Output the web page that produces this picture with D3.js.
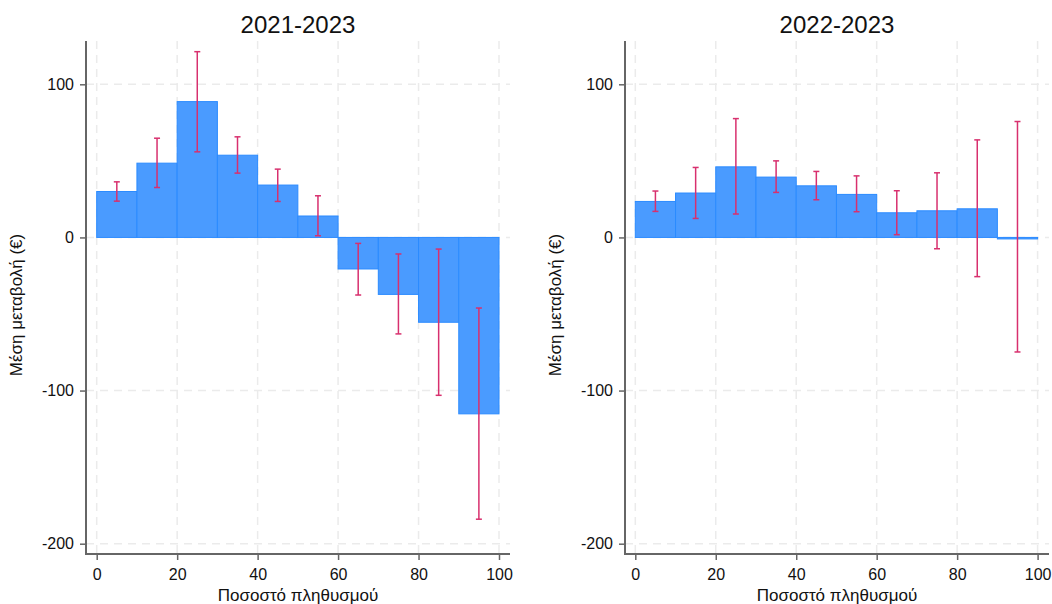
<!DOCTYPE html>
<html>
<head>
<meta charset="utf-8">
<script src="https://cdn.jsdelivr.net/npm/d3@7"></script>
<style>
	body { margin: 0; background: #fff; }
	text { font-family: "Liberation Sans", Arial, sans-serif; fill: #111; }
</style>
</head>
<body>
<svg id="chart" width="1052" height="604"></svg>
<script>
// population bins (percent)
let binStart = [0, 10, 20, 30, 40, 50, 60, 70, 80, 90];
let binEnd = [10, 20, 30, 40, 50, 60, 70, 80, 90, 100];

// 2021-2023
let mean2021 = [30.0, 48.5, 88.7, 53.7, 34.2, 14.0, -20.6, -37.2, -55.4, -115.2];
let hi2021 = [36.3, 64.8, 121.3, 65.7, 44.6, 27.2, -3.9, -10.8, -7.6, -46.1];
let lo2021 = [23.7, 32.6, 55.9, 42.0, 23.5, 1.1, -37.6, -63.0, -103.1, -184.0];

// 2022-2023
let mean2022 = [23.5, 29.0, 46.1, 39.4, 33.7, 28.1, 16.1, 17.4, 18.7, -0.4];
let hi2022 = [30.3, 45.7, 77.6, 50.0, 43.1, 40.2, 30.5, 42.2, 63.7, 75.7];
let lo2022 = [17.0, 12.4, 15.3, 29.4, 24.6, 16.8, 1.8, -7.4, -25.6, -74.8];

let xTicks = [0, 20, 40, 60, 80, 100];
let yTicks = [100, 0, -100, -200];

let svg = d3.select('#chart');

function drawPanel(title, mean, hi, lo, left, x0) {
	let top = 41;
	let bottom = 554;
	let right = left + 424;

	let x = d3.scaleLinear().domain([0, 100]).range([x0, x0 + 402.3]);
	let y = d3.scaleLinear().domain([-200, 100]).range([543.7, 84.3]);

	let g = svg.append('g');

	// grid
	g.selectAll('.vgrid')
		.data(xTicks)
		.enter()
		.append('line')
		.attr('x1', d => x(d)).attr('x2', d => x(d))
		.attr('y1', top).attr('y2', bottom)
		.attr('stroke', '#ebebeb')
		.attr('stroke-width', 1.5)
		.attr('stroke-dasharray', '8,6');

	g.selectAll('.hgrid')
		.data(yTicks)
		.enter()
		.append('line')
		.attr('x1', left).attr('x2', right)
		.attr('y1', d => y(d)).attr('y2', d => y(d))
		.attr('stroke', '#ebebeb')
		.attr('stroke-width', 1.5)
		.attr('stroke-dasharray', '8,6');

	// bars
	let data = mean.map((m, i) => ({ a: binStart[i], b: binEnd[i], m: m, hi: hi[i], lo: lo[i] }));

	g.selectAll('.bar')
		.data(data)
		.enter()
		.append('rect')
		.attr('x', d => x(d.a))
		.attr('width', d => x(d.b) - x(d.a))
		.attr('y', d => Math.min(y(d.m), y(0)))
		.attr('height', d => Math.max(Math.abs(y(d.m) - y(0)), 1.5))
		.attr('fill', '#4a9bff')
		.attr('stroke', '#2b8bff')
		.attr('stroke-width', 1);

	// error bars
	let err = g.selectAll('.err')
		.data(data)
		.enter()
		.append('g')
		.attr('stroke', '#d8306e')
		.attr('stroke-width', 1.5);

	err.append('line')
		.attr('x1', d => x((d.a + d.b) / 2)).attr('x2', d => x((d.a + d.b) / 2))
		.attr('y1', d => y(d.hi)).attr('y2', d => y(d.lo));
	err.append('line')
		.attr('x1', d => x((d.a + d.b) / 2) - 3).attr('x2', d => x((d.a + d.b) / 2) + 3)
		.attr('y1', d => y(d.hi)).attr('y2', d => y(d.hi));
	err.append('line')
		.attr('x1', d => x((d.a + d.b) / 2) - 3).attr('x2', d => x((d.a + d.b) / 2) + 3)
		.attr('y1', d => y(d.lo)).attr('y2', d => y(d.lo));

	// axes
	let fmt = d => String(d);
	let xAxis = d3.axisBottom(x).tickValues(xTicks).tickFormat(fmt).tickSize(6).tickPadding(9);
	let yAxis = d3.axisLeft(y).tickValues(yTicks).tickFormat(fmt).tickSize(6).tickPadding(6);

	let xg = g.append('g')
		.attr('transform', 'translate(0, ' + bottom + ')')
		.call(xAxis);
	xg.select('.domain').remove();
	xg.append('line')
		.attr('x1', left).attr('x2', right)
		.attr('stroke', '#666').attr('stroke-width', 2);

	let yg = g.append('g')
		.attr('transform', 'translate(' + left + ', 0)')
		.call(yAxis);
	yg.select('.domain').remove();
	yg.append('line')
		.attr('y1', top).attr('y2', bottom + 1)
		.attr('stroke', '#666').attr('stroke-width', 2);

	g.selectAll('.tick line').attr('stroke', '#666').attr('stroke-width', 1.5);
	g.selectAll('.tick text')
		.style('font-size', '16px')
		.style('font-family', '"Liberation Sans", Arial, sans-serif')
		.attr('fill', '#111');

	// titles
	g.append('text')
		.attr('x', (left + right) / 2)
		.attr('y', 33)
		.attr('text-anchor', 'middle')
		.style('font-size', '24px')
		.text(title);

	g.append('text')
		.attr('x', (left + right) / 2)
		.attr('y', 601)
		.attr('text-anchor', 'middle')
		.style('font-size', '17px')
		.text('Ποσοστό πληθυσμού');

	g.append('text')
		.attr('transform', 'translate(' + (left - 64) + ', ' + 305 + ') rotate(-90)')
		.attr('text-anchor', 'middle')
		.style('font-size', '17px')
		.text('Μέση μεταβολή (€)');
}

drawPanel('2021-2023', mean2021, hi2021, lo2021, 86, 96.7);
drawPanel('2022-2023', mean2022, hi2022, lo2022, 625, 635.3);
</script>
</body>
</html>
